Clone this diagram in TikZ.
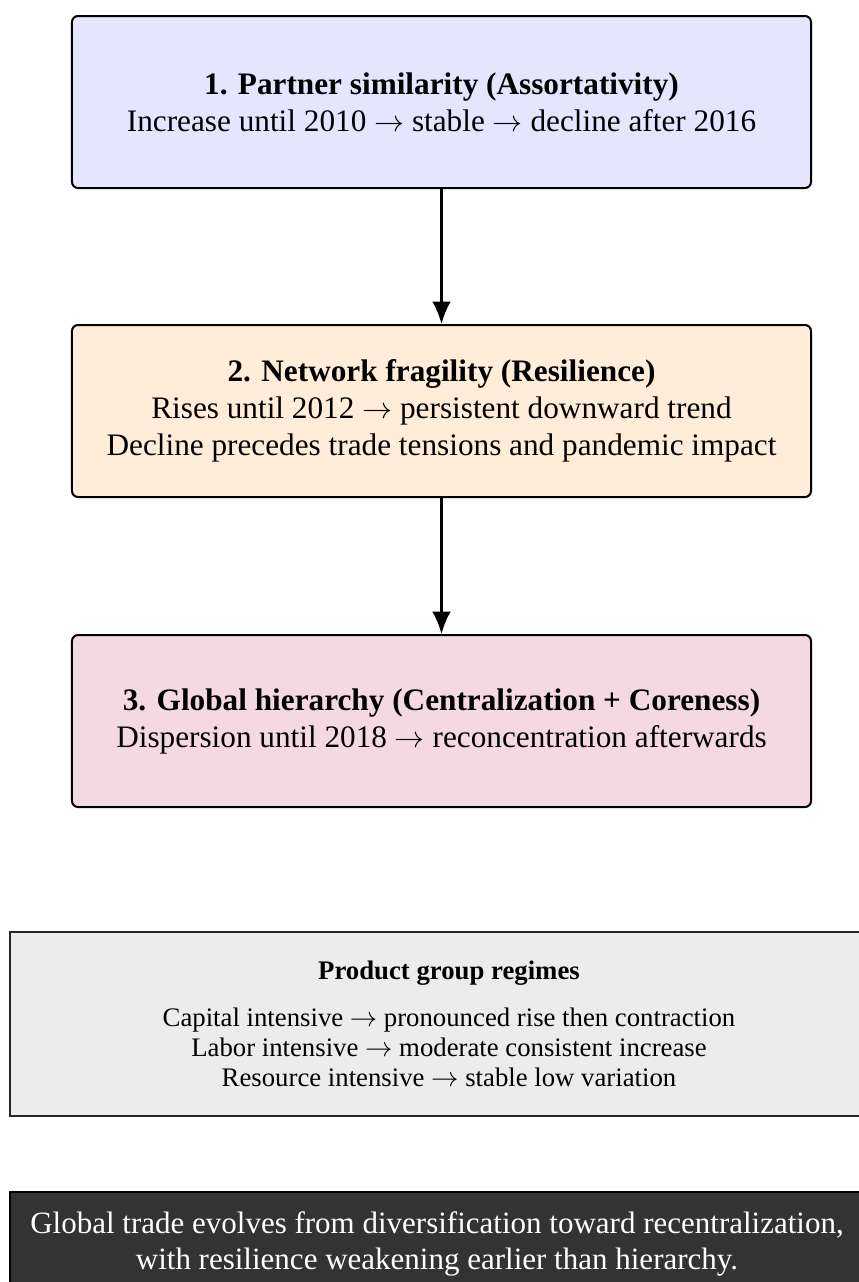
\documentclass[tikz,border=0pt]{standalone}
\usepackage{fontspec}
\setmainfont{Liberation Serif}
\usepackage{amsmath}
\usetikzlibrary{arrows.meta}

\begin{document}
\begin{tikzpicture}[x=0.4pt, y=-0.4pt, every node/.style={font=\fontsize{12.5}{14.8}\selectfont},
	stagebox/.style={draw=black, line width=0.8pt, rounded corners=2.4pt, minimum width=295.6pt, minimum height=68.8pt, align=center, inner sep=0pt},
	regimebox/.style={draw=black!85, line width=1pt, fill=gray!15, minimum width=351.2pt, minimum height=73.6pt, align=center, inner sep=0pt, font=\fontsize{10.7}{12}\selectfont},
	summarybox/.style={draw=black, line width=0.5pt, fill=black!80, text=white, minimum width=341.6pt, minimum height=41.6pt, align=center, inner sep=0pt, font=\fontsize{12.4}{14.6}\selectfont},
	flow/.style={-{Latex[length=9pt,width=7.5pt]}, line width=1pt}]
		\useasboundingbox (0,0) rectangle (859,1282);
		\clip (0,0) rectangle (859,1282);
		% three stages
		\node[stagebox, fill=blue!10] (assort) at (441.5,102) {\textbf{1. Partner similarity (Assortativity)}\\ Increase until 2010 $\rightarrow$ stable $\rightarrow$ decline after 2016};
		\node[stagebox, fill=orange!15] (resil) at (441.5,411) {\textbf{2. Network fragility (Resilience)}\\ Rises until 2012 $\rightarrow$ persistent downward trend\\ Decline precedes trade tensions and pandemic impact};
		\node[stagebox, fill=purple!15] (hier) at (441.5,721) {\textbf{3. Global hierarchy (Centralization + Coreness)}\\ Dispersion until 2018 $\rightarrow$ reconcentration afterwards};
		\draw[flow] (assort) -- (resil);
		\draw[flow] (resil) -- (hier);
		% product groups
		\node[regimebox] (regimes) at (449,1024) {\textbf{Product group regimes}\\[7pt] Capital intensive $\rightarrow$ pronounced rise then contraction\\ Labor intensive $\rightarrow$ moderate consistent increase\\ Resource intensive $\rightarrow$ stable low variation};
		% summary
		\node[summarybox] (summary) at (437,1244) {Global trade evolves from diversification toward recentralization,\\ with resilience weakening earlier than hierarchy.};
\end{tikzpicture}
\end{document}
